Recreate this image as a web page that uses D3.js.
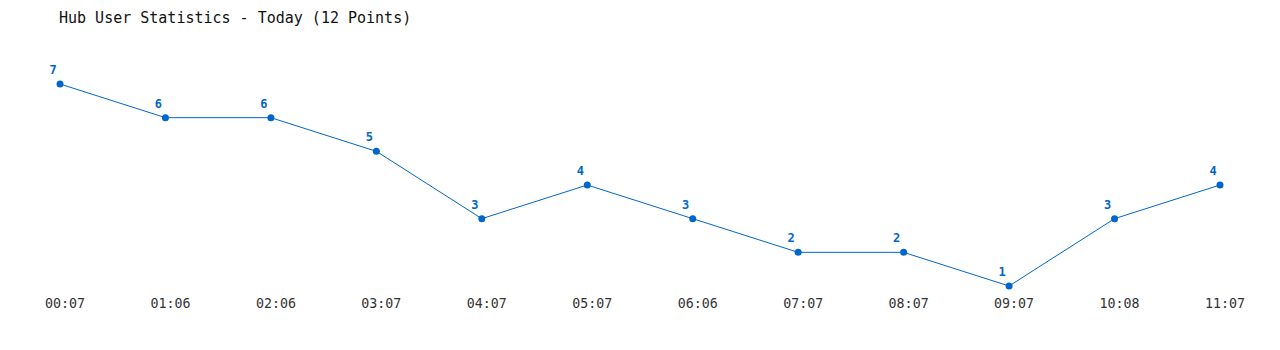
<!DOCTYPE html>
<html>
<head>
<meta charset="utf-8">
<script src="https://cdn.jsdelivr.net/npm/d3@7"></script>
<style>
  body { margin: 0; background: #fff; }
  text { font-family: "DejaVu Sans Mono", monospace; }
</style>
</head>
<body>
<div id="chart"></div>
<script>
'use strict';

const times = ['00:07', '01:06', '02:06', '03:07', '04:07', '05:07',
               '06:06', '07:07', '08:07', '09:07', '10:08', '11:07'];
const users = [7, 6, 6, 5, 3, 4, 3, 2, 2, 1, 3, 4];
const title = 'Hub User Statistics - Today (12 Points)';

const width = 1280, height = 350;
const blue = '#0066cc';

const svg = d3.select('#chart')
    .append('svg')
    .attr('width', width)
    .attr('height', height);

const x = d3.scalePoint()
    .domain(times)
    .range([60, 1220]);

const y = d3.scaleLinear()
    .domain([d3.min(users), d3.max(users)])
    .range([286, 84]);

svg.append('text')
    .attr('x', 59)
    .attr('y', 23)
    .attr('font-size', 15)
    .attr('fill', '#111')
    .text(title);

// time labels under the points
svg.selectAll('text.tick')
    .data(times)
    .enter()
    .append('text')
    .attr('class', 'tick')
    .attr('x', d => x(d) + 5)
    .attr('y', 308)
    .attr('text-anchor', 'middle')
    .attr('font-size', 13.3)
    .attr('fill', '#333')
    .text(d => d);

const line = d3.line()
    .x((d, i) => x(times[i]))
    .y(d => y(d));

svg.append('path')
    .datum(users)
    .attr('d', line)
    .attr('fill', 'none')
    .attr('stroke', blue)
    .attr('stroke-width', 1);

svg.selectAll('circle')
    .data(users)
    .enter()
    .append('circle')
    .attr('cx', (d, i) => x(times[i]))
    .attr('cy', d => y(d))
    .attr('r', 3.5)
    .attr('fill', blue);

svg.selectAll('text.val')
    .data(users)
    .enter()
    .append('text')
    .attr('class', 'val')
    .attr('x', (d, i) => x(times[i]) - 7)
    .attr('y', d => y(d) - 10)
    .attr('text-anchor', 'middle')
    .attr('font-size', 12)
    .attr('font-weight', 'bold')
    .attr('fill', blue)
    .text(d => d);
</script>
</body>
</html>
